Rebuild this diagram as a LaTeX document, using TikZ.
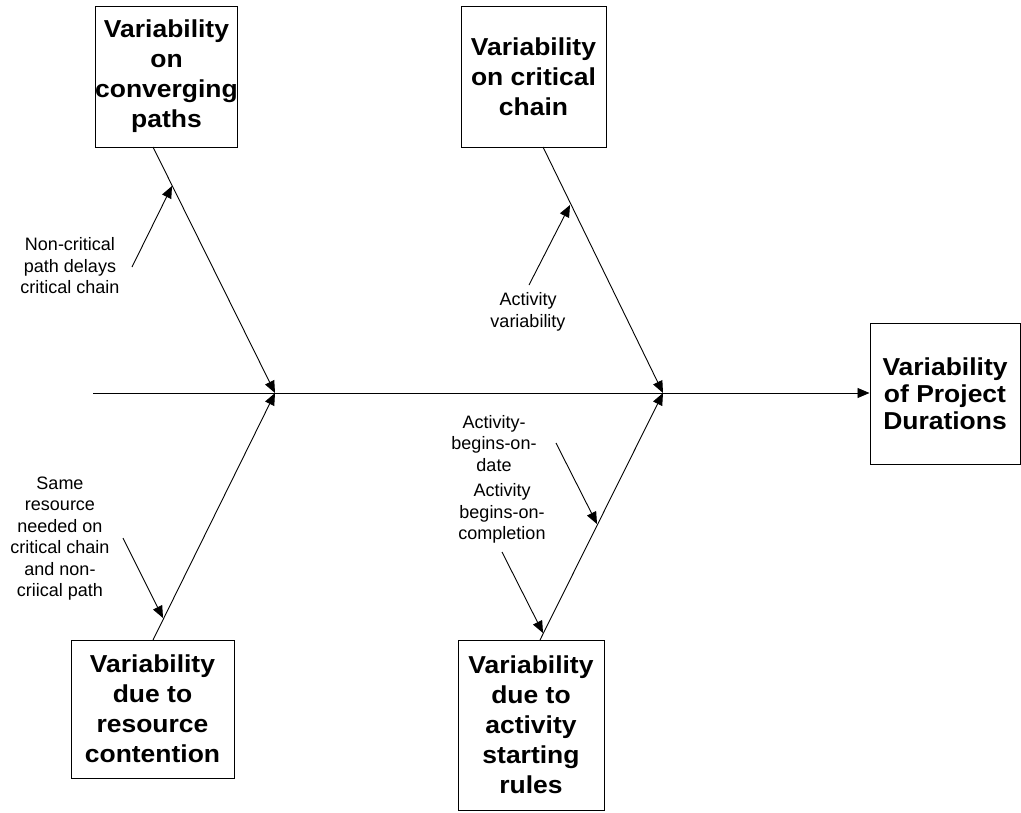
\documentclass[tikz,border=0pt]{standalone}
\usepackage{fontspec}
\setmainfont{Liberation Sans}
\newfontfamily\boxfont[FakeStretch=1.08]{Liberation Sans Bold}
\usetikzlibrary{arrows.meta,calc}
\begin{document}
\begin{tikzpicture}[x=1pt,y=-1pt,
  box/.style={draw, line width=1pt, inner sep=0pt, align=center, font=\boxfont\fontsize{24.5}{30}\selectfont},
  lbl/.style={align=center, inner sep=0pt, font=\fontsize{18}{21.5}\selectfont},
  bone/.style={line width=0.9pt, -{Triangle[length=12pt,width=10pt]}},
]
\useasboundingbox (0,0) rectangle (1021,812);
% boxes
\node[box, minimum width=139pt, minimum height=141pt] (tl) at (166.5,76.5) {Variability\\on\\converging\\paths};
\node[box, minimum width=145pt, minimum height=141pt] (tm) at (533.5,76.5) {Variability\\on critical\\chain};
\node[box, minimum width=150pt, minimum height=141pt, font=\boxfont\fontsize{24.5}{27}\selectfont] (res) at (945,393.5) {Variability\\of Project\\Durations};
\node[box, minimum width=163pt, minimum height=138pt] (bl) at (152.5,709) {Variability\\due to\\resource\\contention};
\node[box, minimum width=146pt, minimum height=170pt] (bm) at (531,725) {Variability\\due to\\activity\\starting\\rules};
% key coordinates
\coordinate (s0) at (93,393);
\coordinate (j1) at (275,393);
\coordinate (j2) at (663,393);
\coordinate (tlb) at (153,147);
\coordinate (tmb) at (543,147);
\coordinate (blb) at (153,640);
\coordinate (bmb) at (540,640);
% spine and bones
\draw[bone] (s0) -- (s0 -| res.west);
\draw[bone] (tlb) -- (j1);
\draw[bone] (blb) -- (j1);
\draw[bone] (tmb) -- (j2);
\draw[bone] (bmb) -- (j2);
% labels
\node[lbl] (l1) at (70,266) {Non-critical\\path delays\\critical chain};
\node[lbl] (l2) at (528,312) {Activity\\variability};
\node[lbl] (l3) at (60,538.5) {Same\\resource\\needed on\\critical chain\\and non-\\criical path};
\node[lbl] (l4) at (494,443.5) {Activity-\\begins-on-\\date};
\node[lbl] (l5) at (502,513.5) {Activity\\begins-on-\\completion};
% small arrows
\coordinate (a1) at (132,267);
\coordinate (a1t) at (172,186);
\coordinate (a2) at (529,285);
\coordinate (a2t) at (570,205);
\coordinate (a3) at (123,538);
\coordinate (a3t) at (163,618);
\coordinate (a4) at (556,443);
\coordinate (a4t) at (597,524);
\coordinate (a5) at (502,552);
\coordinate (a5t) at (543,633);
\draw[bone] (a1) -- (a1t);
\draw[bone] (a2) -- (a2t);
\draw[bone] (a3) -- (a3t);
\draw[bone] (a4) -- (a4t);
\draw[bone] (a5) -- (a5t);
\end{tikzpicture}
\end{document}
